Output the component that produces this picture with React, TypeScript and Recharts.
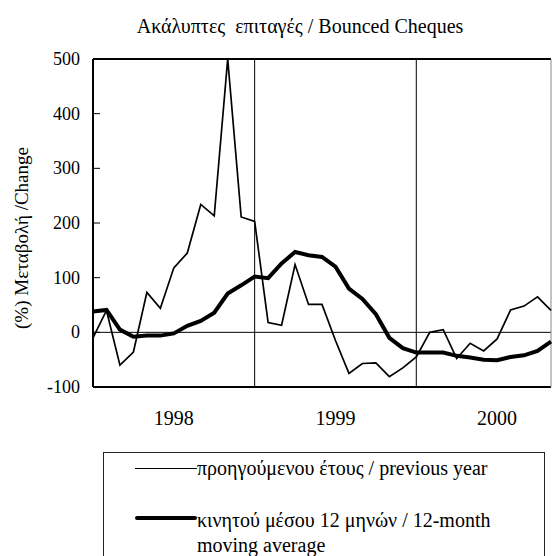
import { LineChart, Line, XAxis, YAxis, ReferenceLine } from "recharts";

const months = [
  "1997-12",
  "1998-01", "1998-02", "1998-03", "1998-04", "1998-05", "1998-06",
  "1998-07", "1998-08", "1998-09", "1998-10", "1998-11", "1998-12",
  "1999-01", "1999-02", "1999-03", "1999-04", "1999-05", "1999-06",
  "1999-07", "1999-08", "1999-09", "1999-10", "1999-11", "1999-12",
  "2000-01", "2000-02", "2000-03", "2000-04", "2000-05", "2000-06",
  "2000-07", "2000-08", "2000-09", "2000-10",
];

// % change vs previous year
const previousYear = [
  -10, 40, -60, -36, 73, 44, 118, 145, 234, 213, 500, 211, 203,
  18, 13, 124, 51, 51, -15, -75, -57, -56, -81, -65, -45,
  0, 5, -48, -20, -34, -12, 41, 48, 65, 40,
];

// 12-month moving average
const movingAverage = [
  38, 41, 5, -8, -6, -6, -2, 12, 21, 36, 71, 86, 102,
  99, 126, 147, 141, 138, 120, 80, 61, 33, -10, -29, -37,
  -37, -37, -43, -46, -50, -51, -45, -42, -34, -17,
];

const yearTicks = ["1998-06", "1999-06", "2000-06"];
const yearLines = ["1998-12", "1999-12"];
const yTicks = [-100, 0, 100, 200, 300, 400, 500];

const data = months.map((m, i) => ({
  month: m,
  prev: previousYear[i],
  avg: movingAverage[i],
}));

const font = "'Liberation Serif', 'Times New Roman', serif";

function YTick(props: any) {
  const { x, y, payload } = props;
  const axisX = x + 13;
  return (
    <g>
      <line x1={axisX} x2={axisX + 7} y1={y} y2={y} stroke="#000" strokeWidth={1} />
      <text x={x} y={y} dy={6} textAnchor="end" fontFamily={font} fontSize={18} fill="#000">
        {payload.value}
      </text>
    </g>
  );
}

export default function App() {
  return (
    <div style={{ position: "absolute", left: 0, top: 0, width: 552, height: 556, background: "#fff", overflow: "hidden", fontFamily: font }}>
      <div style={{ position: "absolute", left: 24, width: 552, top: 14, textAlign: "center", fontSize: 20, lineHeight: "24px", color: "#000" }}>
        Ακάλυπτες&nbsp;&nbsp;επιταγές / Bounced Cheques
      </div>
      <div
        style={{
          position: "absolute",
          left: 22,
          top: 238,
          transform: "translate(-50%, -50%) rotate(-90deg)",
          whiteSpace: "nowrap",
          fontSize: 19,
          color: "#000",
        }}
      >
        (%) Μεταβολή /Change
      </div>
      <LineChart
        width={552}
        height={556}
        data={data}
        margin={{ top: 59, right: 1, left: 0, bottom: 139 }}
      >
        <XAxis
          dataKey="month"
          ticks={yearTicks}
          interval={0}
          tickFormatter={(v: string) => v.slice(0, 4)}
          axisLine={false}
          tickLine={false}
          tickSize={0}
          tickMargin={24}
          height={30}
          tick={{ fontFamily: font, fontSize: 20, fill: "#000" }}
        />
        <YAxis
          width={93}
          domain={[-100, 500]}
          ticks={yTicks}
          interval={0}
          axisLine={false}
          tickLine={false}
          tickSize={0}
          tickMargin={13}
          tick={<YTick />}
        />
        <ReferenceLine y={0} stroke="#000" strokeWidth={1} />
        {yearLines.map((m) => (
          <ReferenceLine key={m} x={m} stroke="#000" strokeWidth={1} />
        ))}
        <ReferenceLine y={500} stroke="#000" strokeWidth={2} />
        <ReferenceLine y={-100} stroke="#000" strokeWidth={2} />
        <ReferenceLine x={months[0]} stroke="#000" strokeWidth={2} />
        <ReferenceLine x={months[months.length - 1]} stroke="#888" strokeWidth={1} />
        <Line
          dataKey="prev"
          stroke="#000"
          strokeWidth={1.7}
          dot={false}
          type="linear"
          isAnimationActive={false}
        />
        <Line
          dataKey="avg"
          stroke="#000"
          strokeWidth={4}
          dot={false}
          type="linear"
          isAnimationActive={false}
        />
      </LineChart>
      <div
        style={{
          position: "absolute",
          left: 103,
          top: 452,
          width: 440,
          height: 140,
          border: "1px solid #222",
          fontSize: 20,
          color: "#000",
        }}
      >
        <div style={{ position: "absolute", left: 31, top: 15, width: 62, height: 0, borderTop: "1.7px solid #000" }} />
        <div style={{ position: "absolute", left: 93, top: 3, whiteSpace: "nowrap", lineHeight: "24px" }}>
          προηγούμενου έτους / previous year
        </div>
        <div style={{ position: "absolute", left: 31, top: 63, width: 62, height: 0, borderTop: "4px solid #000", borderRadius: 2 }} />
        <div style={{ position: "absolute", left: 93, top: 55, lineHeight: "25px", whiteSpace: "nowrap" }}>
          κινητού μέσου 12 μηνών / 12-month
          <br />
          moving average
        </div>
      </div>
    </div>
  );
}
